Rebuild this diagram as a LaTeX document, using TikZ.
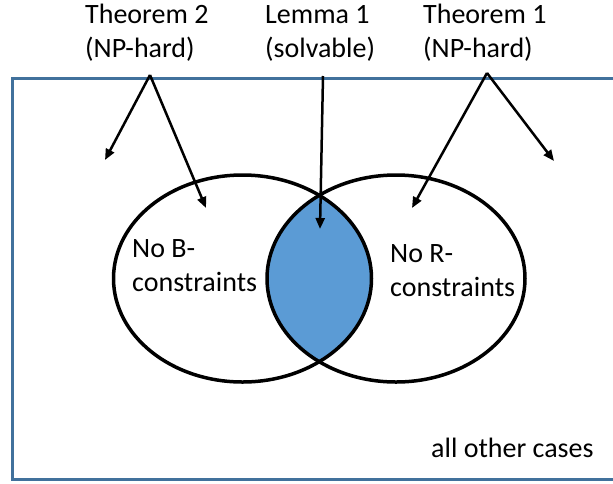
\documentclass[tikz,border=0pt]{standalone}
\usepackage{fontspec}
\setmainfont{Carlito}
\usetikzlibrary{arrows.meta}
\definecolor{frameblue}{HTML}{41719C}
\definecolor{lensblue}{HTML}{5B9BD5}
\tikzset{
  lbl/.style={anchor=south west, inner sep=0pt, align=left, text depth=0pt,
    font=\fontsize{28pt}{34pt}\selectfont},
  arr/.style={line width=2.5pt, -{Triangle[length=11pt,width=9pt]}},
  venn/.style={line width=3.5pt, draw=black},
}
\begin{document}
\begin{tikzpicture}[x=1pt,y=-1pt]
\useasboundingbox (0,0) rectangle (613,483);
% frame
\draw[frameblue, line width=3pt] (616,78) -- (12,78) -- (12,479) -- (616,479);
% lens
\begin{scope}
  \clip (242.5,278.5) ellipse [x radius=129, y radius=103.5];
  \fill[lensblue] (396,278.5) ellipse [x radius=129, y radius=103.5];
\end{scope}
\draw[venn] (242.5,278.5) ellipse [x radius=129, y radius=103.5];
\draw[venn] (396,278.5) ellipse [x radius=129, y radius=103.5];
% labels
\node[lbl] (t2) at (85,58) {Theorem 2\\(NP-hard)};
\node[lbl] (l1) at (265,58) {Lemma 1\\(solvable)};
\node[lbl] (t1) at (423,58) {Theorem 1\\(NP-hard)};
\node[lbl] (nb) at (132,292) {No B-\\constraints};
\node[lbl] (nr) at (390,297) {No R-\\constraints};
\node[lbl] (oc) at (431,458) {all other cases};
% arrow coordinates
\coordinate (a2) at (150,75);
\coordinate (a1) at (487,73);
\coordinate (al) at (323,76);
\coordinate (p1) at (105,160);
\coordinate (p2) at (206,208);
\coordinate (p3) at (320,229);
\coordinate (p4) at (412,208);
\coordinate (p5) at (554,161);
\draw[arr] (a2) -- (p1);
\draw[arr] (a2) -- (p2);
\draw[arr] (al) -- (p3);
\draw[arr] (a1) -- (p4);
\draw[arr] (a1) -- (p5);
\end{tikzpicture}
\end{document}
